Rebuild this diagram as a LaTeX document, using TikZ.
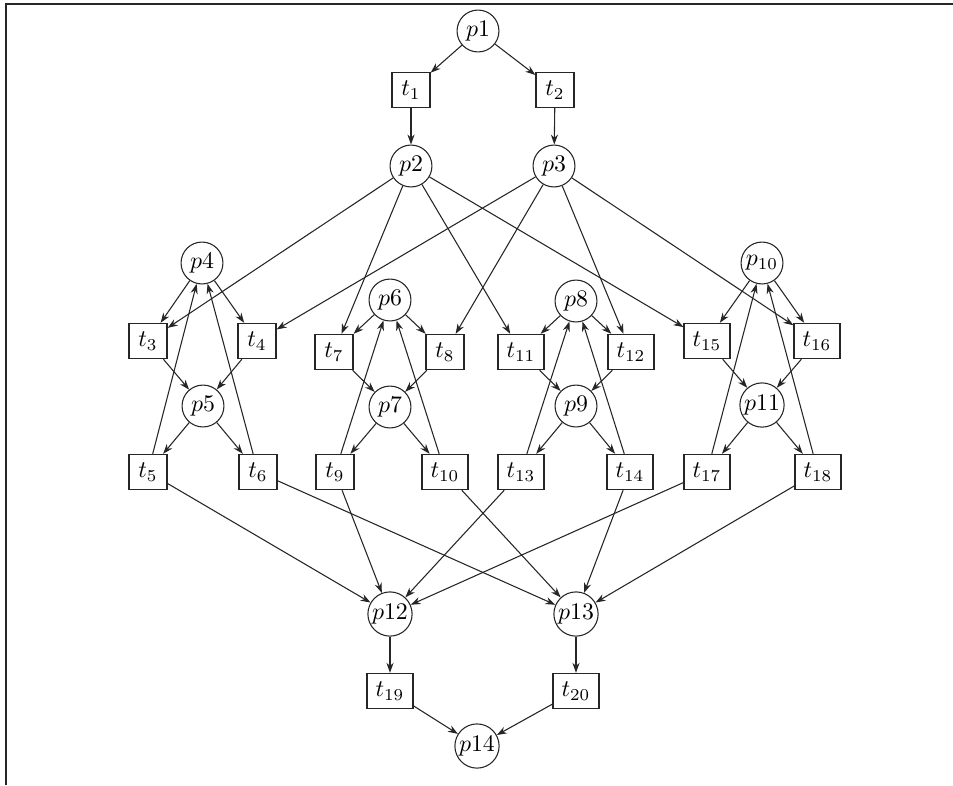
\documentclass[tikz,border=0pt]{standalone}
\usetikzlibrary{arrows.meta}
\begin{document}
\begin{tikzpicture}[x=0.42pt,y=-0.42pt,
  place/.style={draw=black!85,circle,line width=0.45pt,minimum size=17.6pt,inner sep=0.5pt},
  trans/.style={draw=black!85,rectangle,line width=0.5pt,minimum width=16pt,minimum height=14.8pt,inner xsep=3.6pt,inner ysep=1pt},
  arc/.style={draw=black!85,line width=0.45pt,-{Stealth[length=4.2pt,width=3pt]}},
  frame/.style={draw=black!85,line width=0.8pt}]
\useasboundingbox (0,0) rectangle (953,785);
\coordinate (fa) at (6,785);
\coordinate (fb) at (6,4);
\coordinate (fc) at (953,4);
\draw[frame] (fa) -- (fb) -- (fc);
% places
\node[place] (p1) at (478,31) {$p1$};
\node[place] (p2) at (411,166) {$p2$};
\node[place] (p3) at (554,166) {$p3$};
\node[place] (p4) at (202,263) {$p4$};
\node[place] (p5) at (203,406) {$p5$};
\node[place] (p6) at (390,300) {$p6$};
\node[place] (p7) at (390,407) {$p7$};
\node[place] (p8) at (576,301) {$p8$};
\node[place] (p9) at (576,406) {$p9$};
\node[place] (p10) at (762,263) {$p_{10}$};
\node[place] (p11) at (762,405) {$p11$};
\node[place] (p12) at (390,614) {$p12$};
\node[place] (p13) at (576,614) {$p13$};
\node[place] (p14) at (477,746) {$p14$};
% transitions
\node[trans] (t1) at (411,90) {$t_1$};
\node[trans] (t2) at (555,90) {$t_2$};
\node[trans] (t3) at (148,341) {$t_3$};
\node[trans] (t4) at (257,341) {$t_4$};
\node[trans] (t5) at (148,472) {$t_5$};
\node[trans] (t6) at (258,472) {$t_6$};
\node[trans] (t7) at (334,352) {$t_7$};
\node[trans] (t8) at (445,352) {$t_8$};
\node[trans] (t9) at (335,472) {$t_9$};
\node[trans] (t10) at (445,472) {$t_{10}$};
\node[trans] (t11) at (521,352) {$t_{11}$};
\node[trans] (t12) at (631,352) {$t_{12}$};
\node[trans] (t13) at (521,472) {$t_{13}$};
\node[trans] (t14) at (630,472) {$t_{14}$};
\node[trans] (t15) at (707,341) {$t_{15}$};
\node[trans] (t16) at (817,341) {$t_{16}$};
\node[trans] (t17) at (707,472) {$t_{17}$};
\node[trans] (t18) at (818,472) {$t_{18}$};
\node[trans] (t19) at (390,691) {$t_{19}$};
\node[trans] (t20) at (576,691) {$t_{20}$};
% arcs
\foreach \a/\b in {p1/t1,p1/t2,t1/p2,t2/p3,
  p2/t3,p2/t7,p2/t11,p2/t15,
  p3/t4,p3/t8,p3/t12,p3/t16,
  p4/t3,p4/t4,t3/p5,t4/p5,p5/t5,p5/t6,t5/p4,t6/p4,
  p6/t7,p6/t8,t7/p7,t8/p7,p7/t9,p7/t10,t9/p6,t10/p6,
  p8/t11,p8/t12,t11/p9,t12/p9,p9/t13,p9/t14,t13/p8,t14/p8,
  p10/t15,p10/t16,t15/p11,t16/p11,p11/t17,p11/t18,t17/p10,t18/p10,
  t5/p12,t9/p12,t13/p12,t17/p12,
  t6/p13,t10/p13,t14/p13,t18/p13,
  p12/t19,p13/t20,t19/p14,t20/p14}
  \draw[arc] (\a) -- (\b);
\end{tikzpicture}
\end{document}
